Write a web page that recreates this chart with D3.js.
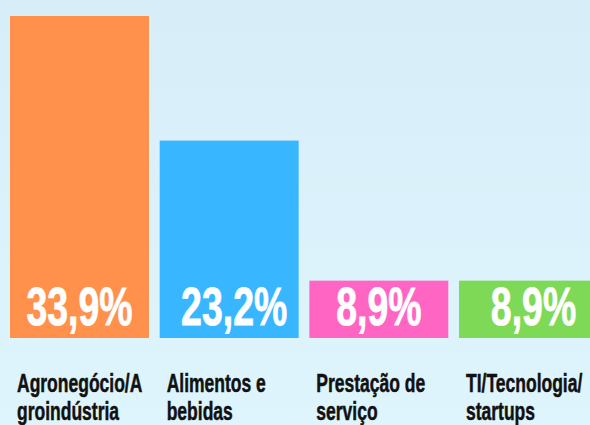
<!DOCTYPE html>
<html>
<head>
<meta charset="utf-8">
<script src="https://cdn.jsdelivr.net/npm/d3@7"></script>
<style>
  html, body { margin: 0; padding: 0; }
  body { width: 590px; height: 425px; overflow: hidden; }
  svg { display: block; }
</style>
</head>
<body>
<div id="chart"></div>
<script>
const categories = ["Agronegócio/Agroindústria", "Alimentos e bebidas", "Prestação de serviço", "TI/Tecnologia/startups"];
const labelLines = [["Agronegócio/A", "groindústria"], ["Alimentos e", "bebidas"], ["Prestação de", "serviço"], ["TI/Tecnologia/", "startups"]];
const values = [33.9, 23.2, 8.9, 8.9];
const valueLabels = ["33,9%", "23,2%", "8,9%", "8,9%"];
const colors = ["#ff914d", "#38b6ff", "#ff66c4", "#7ed957"];

const W = 590, H = 425;
const baseY = 338, topY = 16;

const svg = d3.select("#chart").append("svg").attr("width", W).attr("height", H);
const defs = svg.append("defs");
const grad = defs.append("linearGradient").attr("id", "bg").attr("x1", 0).attr("y1", 0).attr("x2", 0).attr("y2", 1);
grad.append("stop").attr("offset", "0%").attr("stop-color", "#d7eef9");
grad.append("stop").attr("offset", "100%").attr("stop-color", "#def5fd");
svg.append("rect").attr("width", W).attr("height", H).attr("fill", "url(#bg)");

const x = d3.scaleBand().domain(categories).range([10, 598]).paddingInner(0.0715).paddingOuter(0);
const y = d3.scalePow().exponent(1.29).domain([0, d3.max(values)]).range([baseY, topY]);

const data = categories.map((c, i) => ({c, v: values[i], lab: valueLabels[i], col: colors[i], lines: labelLines[i]}));

svg.selectAll("rect.bar").data(data).join("rect")
  .attr("class", "bar")
  .attr("x", d => x(d.c))
  .attr("y", d => y(d.v))
  .attr("width", x.bandwidth())
  .attr("height", d => baseY - y(d.v))
  .attr("fill", d => d.col);

svg.selectAll("text.val").data(data).join("text")
  .attr("class", "val")
  .attr("transform", (d, i) => `translate(${x(d.c) + x.bandwidth() / 2 + (i === 3 || i === 1 ? 5 : 0)},${baseY - 13}) scale(0.72,1.02)`)
  .attr("text-anchor", "middle")
  .attr("font-family", "'Liberation Sans', Arial, sans-serif")
  .attr("font-weight", "bold")
  .attr("font-size", 52)
  .attr("fill", "#ffffff")
  .attr("stroke", "#ffffff")
  .attr("stroke-width", 0.8)
  .text(d => d.lab);

const lg = svg.selectAll("g.lab").data(data).join("g")
  .attr("class", "lab")
  .attr("transform", d => `translate(${x(d.c) + 7},392) scale(0.70,1.03)`);
lg.selectAll("text").data(d => d.lines).join("text")
  .attr("x", 0)
  .attr("y", (d, i) => i * 27.5)
  .attr("font-family", "'Liberation Sans', Arial, sans-serif")
  .attr("font-weight", "bold")
  .attr("font-size", 25)
  .attr("fill", "#111111")
  .attr("stroke", "#111111")
  .attr("stroke-width", 0.5)
  .text(d => d);
</script>
</body>
</html>
